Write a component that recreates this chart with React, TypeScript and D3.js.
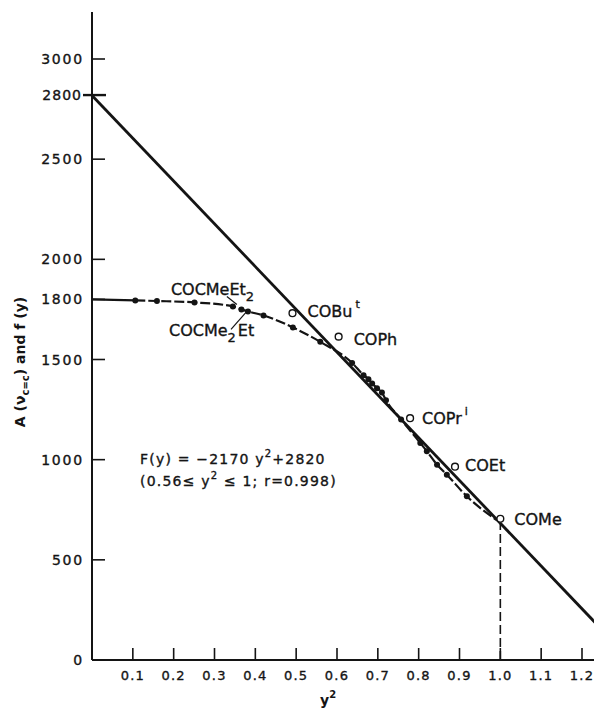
import React, { useRef, useEffect } from "react";
import * as d3 from "d3";

const W = 602;
const H = 725;

// axis ticks
const xTickValues = [0.1, 0.2, 0.3, 0.4, 0.5, 0.6, 0.7, 0.8, 0.9, 1.0, 1.1, 1.2];
const xTickLabels = ["0.1", "0.2", "0.3", "0.4", "0.5", "0.6", "0.7", "0.8", "0.9", "1.0", "1.1", "1.2"];
const yTickValues = [0, 500, 1000, 1500, 1800, 2000, 2500, 3000];
const yTickLabels = ["0", "500", "1000", "1500", "1800", "2000", "2500", "3000"];
const interceptValue = 2800;

// f(y): dashed curve through the filled points
const curveStart = [0, 1800];
const curveEnd = [0.99, 700];
const dotX = [0.106, 0.159, 0.251, 0.345, 0.366, 0.382, 0.42, 0.492, 0.559, 0.637, 0.665, 0.677, 0.686, 0.698, 0.71, 0.72, 0.757, 0.804, 0.82, 0.845, 0.869, 0.918];
const dotY = [1795, 1792, 1785, 1765, 1750, 1740, 1720, 1660, 1588, 1483, 1422, 1402, 1380, 1357, 1335, 1297, 1200, 1083, 1042, 975, 925, 817];

// open circles A(v c=c)
const openNames = ["COBu", "COPh", "COPr", "COEt", "COMe"];
const openSup = ["t", "", "i", "", ""];
const openX = [0.491, 0.604, 0.779, 0.889, 1.0];
const openY = [1731, 1614, 1207, 965, 705];

// straight line F(y)
const fitX = [0, 1.234];
const fitY = [2818, 183];

const ink = "#141414";
const font = "'DejaVu Sans', sans-serif";

const Chart = () => {
  const svgRef = useRef<SVGSVGElement>(null);

  useEffect(() => {
    const svg = d3.select(svgRef.current);
    svg.selectAll("*").remove();

    const x = d3.scaleLinear().domain([0, 1.2]).range([92, 582]);
    const y = d3.scaleLinear().domain([0, 3000]).range([660, 59]);

    const g = svg.append("g");

    // thicken text a little, like the printed figure
    const heavy = (sel: any) =>
      sel.attr("stroke", ink).attr("stroke-width", 0.35).attr("fill", ink);

    // axes
    g.append("line")
      .attr("x1", x(0)).attr("x2", x(1.24))
      .attr("y1", y(0)).attr("y2", y(0))
      .attr("stroke", ink).attr("stroke-width", 2);
    g.append("line")
      .attr("x1", x(0)).attr("x2", x(0))
      .attr("y1", y(0)).attr("y2", y(3235))
      .attr("stroke", ink).attr("stroke-width", 2);

    // x ticks (inward)
    g.selectAll(".xtick")
      .data(xTickValues)
      .join("line")
      .attr("class", "xtick")
      .attr("x1", (d) => x(d)).attr("x2", (d) => x(d))
      .attr("y1", y(0)).attr("y2", y(0) - 12)
      .attr("stroke", ink).attr("stroke-width", 1.6);
    g.selectAll(".xlab")
      .data(xTickValues)
      .join("text")
      .attr("class", "xlab")
      .attr("x", (d) => x(d))
      .attr("y", y(0) + 20)
      .attr("text-anchor", "middle")
      .style("font-family", font)
      .style("font-size", "13px")
      .style("letter-spacing", "1.2px")
      .call(heavy)
      .text((d, i) => xTickLabels[i]);

    // y ticks (inward)
    g.selectAll(".ytick")
      .data(yTickValues)
      .join("line")
      .attr("class", "ytick")
      .attr("x1", x(0)).attr("x2", x(0) + 13)
      .attr("y1", (d) => y(d)).attr("y2", (d) => y(d))
      .attr("stroke", ink).attr("stroke-width", 1.6);
    g.selectAll(".ylab")
      .data(yTickValues)
      .join("text")
      .attr("class", "ylab")
      .attr("x", x(0) - 8)
      .attr("y", (d) => y(d) + 5)
      .attr("text-anchor", "end")
      .style("font-family", font)
      .style("font-size", "14px")
      .style("letter-spacing", "1.8px")
      .call(heavy)
      .text((d, i) => yTickLabels[i]);

    // intercept mark
    g.append("line")
      .attr("x1", x(0) - 9).attr("x2", x(0) + 14)
      .attr("y1", y(interceptValue) - 4).attr("y2", y(interceptValue) - 4)
      .attr("stroke", ink).attr("stroke-width", 2.4);
    g.append("text")
      .attr("x", x(0) - 10)
      .attr("y", y(interceptValue) + 1)
      .attr("text-anchor", "end")
      .style("font-family", font)
      .style("font-size", "14px")
      .style("letter-spacing", "1px")
      .call(heavy)
      .text(String(interceptValue));

    // dashed drop line at y^2 = 1
    g.append("line")
      .attr("x1", x(openX[4])).attr("x2", x(openX[4]))
      .attr("y1", y(0)).attr("y2", y(openY[4]) + 4)
      .attr("stroke", ink).attr("stroke-width", 1.6)
      .attr("stroke-dasharray", "9,4");

    // straight line
    g.append("line")
      .attr("x1", x(fitX[0])).attr("y1", y(fitY[0]))
      .attr("x2", x(fitX[1])).attr("y2", y(fitY[1]))
      .attr("stroke", ink).attr("stroke-width", 2.8);

    // f(y) curve
    const pts: [number, number][] = [
      [curveStart[0], curveStart[1]],
      ...dotX.map((v, i) => [v, dotY[i]] as [number, number]),
      [curveEnd[0], curveEnd[1]],
    ];
    const lineGen = d3
      .line<[number, number]>()
      .x((d) => x(d[0]))
      .y((d) => y(d[1]))
      .curve(d3.curveMonotoneX);
    // solid lead-in from the axis, dashed afterwards
    g.append("path")
      .attr("d", lineGen(pts.slice(0, 2)))
      .attr("fill", "none")
      .attr("stroke", ink)
      .attr("stroke-width", 2.2);
    g.append("path")
      .attr("d", lineGen(pts.slice(1)))
      .attr("fill", "none")
      .attr("stroke", ink)
      .attr("stroke-width", 2.2)
      .attr("stroke-dasharray", "10,3");

    g.selectAll(".dot")
      .data(dotX)
      .join("circle")
      .attr("class", "dot")
      .attr("cx", (d) => x(d))
      .attr("cy", (d, i) => y(dotY[i]))
      .attr("r", 3)
      .attr("fill", ink);

    g.selectAll(".open")
      .data(openX)
      .join("circle")
      .attr("class", "open")
      .attr("cx", (d) => x(d))
      .attr("cy", (d, i) => y(openY[i]))
      .attr("r", 3.4)
      .attr("fill", "white")
      .attr("stroke", ink)
      .attr("stroke-width", 1.4);

    // open circle labels
    const openOffset = [
      [15, 4],
      [15, 8],
      [12, 6],
      [10, 4],
      [14, 6],
    ];
    openNames.forEach((name, i) => {
      const t = g
        .append("text")
        .attr("x", x(openX[i]) + openOffset[i][0])
        .attr("y", y(openY[i]) + openOffset[i][1])
        .style("font-family", font)
        .style("font-size", "16px")
        .call(heavy)
        .text(name);
      if (openSup[i]) {
        t.append("tspan")
          .attr("dx", 3)
          .attr("dy", -9)
          .style("font-size", "11px")
          .text(openSup[i]);
      }
    });

    // labels for the branched compounds
    const a = [x(dotX[3]), y(dotY[3])];
    const t1 = g
      .append("text")
      .attr("x", a[0] - 62)
      .attr("y", a[1] - 11)
      .style("font-family", font)
      .style("font-size", "16px")
      .call(heavy)
      .text("COCMeEt");
    t1.append("tspan").attr("dy", 6).style("font-size", "13px").text("2");
    g.append("line")
      .attr("x1", a[0] - 6).attr("y1", a[1] - 10)
      .attr("x2", a[0] + 4).attr("y2", a[1] - 2)
      .attr("stroke", ink).attr("stroke-width", 1.2);

    const b = [x(dotX[5]), y(dotY[5])];
    const t2 = g
      .append("text")
      .attr("x", b[0] - 79)
      .attr("y", b[1] + 25)
      .style("font-family", font)
      .style("font-size", "16px")
      .call(heavy)
      .text("COCMe");
    t2.append("tspan").attr("dy", 6).style("font-size", "13px").text("2");
    t2.append("tspan").attr("dy", -6).attr("dx", 2).text("Et");
    g.append("line")
      .attr("x1", b[0] - 17).attr("y1", b[1] + 18)
      .attr("x2", b[0] - 2).attr("y2", b[1] + 1)
      .attr("stroke", ink).attr("stroke-width", 1.2);

    // equation
    const eq = g
      .append("text")
      .attr("x", 140)
      .attr("y", 464)
      .style("font-family", font)
      .style("font-size", "14px")
      .style("letter-spacing", "1.2px")
      .call(heavy);
    eq.append("tspan").text("F(y) = \u22122170 y");
    eq.append("tspan").attr("dy", -7).style("font-size", "10px").text("2");
    eq.append("tspan").attr("dy", 7).text("+2820");
    const eq2 = g
      .append("text")
      .attr("x", 140)
      .attr("y", 486)
      .style("font-family", font)
      .style("font-size", "14px")
      .style("letter-spacing", "1.2px")
      .call(heavy);
    eq2.append("tspan").text("(0.56\u2264 y");
    eq2.append("tspan").attr("dy", -7).style("font-size", "10px").text("2");
    eq2.append("tspan").attr("dy", 7).text(" \u2264 1; r=0.998)");

    // axis titles
    const xt = g
      .append("text")
      .attr("x", 320)
      .attr("y", 705)
      .style("font-family", font)
      .style("font-size", "14px")
      .style("font-weight", "bold")
      .attr("fill", ink)
      .text("y");
    xt.append("tspan").attr("dy", -7).style("font-size", "10px").text("2");

    const yt = g
      .append("text")
      .attr("transform", `translate(25, 362) rotate(-90)`)
      .attr("text-anchor", "middle")
      .style("font-family", font)
      .style("font-size", "14px")
      .style("font-weight", "bold")
      .attr("fill", ink);
    yt.append("tspan").text("A (\u03bd");
    yt.append("tspan").attr("dy", 4).style("font-size", "10px").text("c=c");
    yt.append("tspan").attr("dy", -4).text(") and f (y)");
  }, []);

  return <svg ref={svgRef} width={W} height={H} style={{ display: "block" }} />;
};

export default function App() {
  return (
    <div style={{ width: W, height: H, margin: -8, background: "white" }}>
      <Chart />
    </div>
  );
}
